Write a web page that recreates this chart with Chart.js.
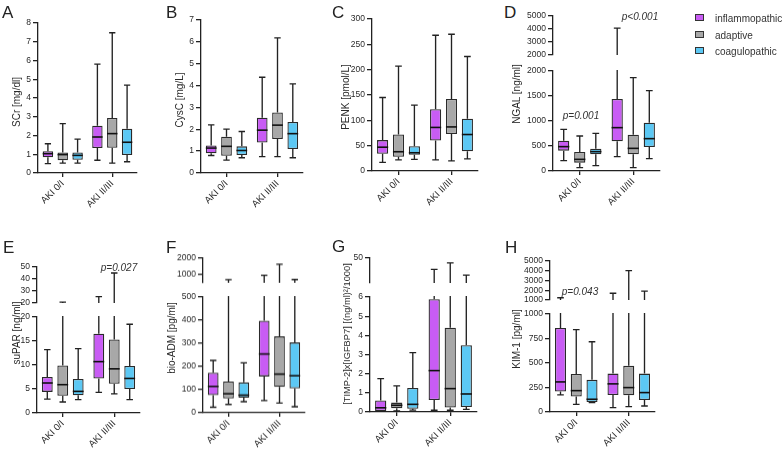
<!DOCTYPE html>
<html>
<head>
<meta charset="utf-8">
<script src="https://cdn.jsdelivr.net/npm/chart.js@4"></script>
<style>
  body { margin: 0; background: #fff; }
  #fig { position: relative; width: 784px; height: 452px; overflow: hidden;
         font-family: "Liberation Sans", Arial, sans-serif; color: #333; }
  #fig canvas { position: absolute; }
  .lt { position: absolute; font-size: 17px; line-height: 17px; color: #222; }
  .yt { position: absolute; width: 200px; height: 12px; font-size: 10px; line-height: 12px;
        text-align: center; white-space: nowrap; color: #2a2a2a; transform: rotate(-90deg); }
  .pv { position: absolute; width: 60px; height: 12px; line-height: 12px; text-align: center;
        font-size: 10px; font-style: italic; white-space: nowrap; }
  .lg { position: absolute; left: 695px; font-size: 10px; line-height: 12px; white-space: nowrap; }
  .lg i { display: inline-block; width: 7px; height: 5px; border: 1.3px solid #333;
          margin-right: 11px; vertical-align: 1px; }
</style>
</head>
<body>
<div id="fig"></div>
<script>
const groups = ['AKI 0/I', 'AKI II/III'];
const phenotypes = ['inflammopathic', 'adaptive', 'coagulopathic'];
const colors = ['#c85cf4', '#a8a8a8', '#5cc8f4'];

// box stats [min, q1, median, q3, max]; one row per phenotype: [AKI 0/I, AKI II/III]
const scr = [
  [[0.5, 0.84, 1.03, 1.16, 1.56], [0.68, 1.33, 1.92, 2.52, 5.81]],
  [[0.53, 0.68, 0.98, 1.1, 2.63], [0.53, 1.35, 2.1, 2.93, 7.48]],
  [[0.53, 0.71, 0.94, 1.1, 1.81], [0.6, 0.96, 1.64, 2.36, 4.69]]
];
const cysc = [
  [[0.8, 0.9, 1.14, 1.26, 2.2], [0.75, 1.39, 1.96, 2.53, 4.38]],
  [[0.59, 0.79, 1.22, 1.66, 2.01], [0.75, 1.55, 2.19, 2.77, 6.18]],
  [[0.7, 0.82, 1.03, 1.22, 1.9], [0.7, 1.1, 1.8, 2.33, 4.08]]
];
const penk = [
  [[17, 34, 47, 61, 145], [22, 60, 86, 122, 268]],
  [[22, 28, 38, 72, 207], [20, 73, 87, 142, 270]],
  [[23, 32, 36, 49, 130], [24, 39, 72, 103, 226]]
];
const ngal = [
  [[207, 407, 487, 607, 833], [287, 593, 867, 1440, 4060]],
  [[67, 167, 233, 380, 700], [67, 333, 453, 727, 1867]],
  [[107, 333, 387, 447, 753], [247, 480, 647, 967, 1607]]
];
const supar = [
  [[2.9, 4.4, 6.25, 7.5, 13.2], [4.3, 7.2, 10.7, 16.5, 25.2]],
  [[2.3, 3.6, 5.9, 9.9, 20.7], [4.0, 6.1, 9.2, 15.3, 45]],
  [[2.8, 3.7, 4.5, 7.1, 13.4], [2.8, 5.0, 7.2, 9.8, 18.5]]
];
const bioadm = [
  [[24, 76, 114, 173, 226], [53, 157, 254, 398, 955]],
  [[36, 62, 82, 135, 690], [42, 112, 167, 330, 1630]],
  [[48, 65, 76, 131, 216], [26, 105, 160, 304, 700]]
];
const timp = [
  [[0.01, 0.05, 0.22, 0.6, 1.74], [0.09, 0.63, 2.16, 5.88, 29.8]],
  [[0.05, 0.19, 0.35, 0.49, 1.36], [0.09, 0.23, 1.22, 4.4, 41.4]],
  [[0.1, 0.17, 0.4, 1.25, 3.1], [0.14, 0.26, 0.94, 3.48, 19.7]]
];
const kim = [
  [[174, 208, 307, 857, 1217], [44, 174, 287, 392, 1682]],
  [[78, 157, 218, 389, 840], [55, 171, 249, 471, 4008]],
  [[96, 102, 130, 328, 717], [61, 123, 198, 392, 1899]]
];

// y tick labels (low segment / upper segment of broken axes)
const scrTicks = [0, 1, 2, 3, 4, 5, 6, 7, 8];
const cyscTicks = [0, 1, 2, 3, 4, 5, 6, 7];
const penkTicks = [0, 50, 100, 150, 200, 250, 300];
const ngalTicksLow = [0, 500, 1000, 1500, 2000];
const ngalTicksHigh = [2000, 3000, 4000, 5000];
const suparTicksLow = [0, 5, 10, 15, 20];
const suparTicksHigh = [20, 30, 40, 50];
const admTicksLow = [0, 100, 200, 300, 400, 500];
const admTicksHigh = [1000, 2000];
const timpTicksLow = [0, 1, 2, 3, 4, 5, 6];
const timpTicksHigh = [50];
const kimTicksLow = [0, 250, 500, 750, 1000];
const kimTicksHigh = [1000, 2000, 3000, 4000, 5000];

const pValues = [
  { text: 'p=0.001', x: 581, y: 116 },
  { text: 'p<0.001', x: 640, y: 17 },
  { text: 'p=0.027', x: 119, y: 268 },
  { text: 'p=0.043', x: 580, y: 292 }
];

// layout of each panel (page pixels); segs[0] is the one carrying the x axis
const panels = [
  { letter: 'A', lx: 2, ly: 4, title: 'SCr [mg/dl]', tx: 17, ty: 102, left: 38, right: 137, data: scr,
    segs: [{ min: 0, max: 8, ticks: scrTicks, top: 23, bottom: 173 }] },
  { letter: 'B', lx: 166, ly: 4, title: 'CysC [mg/L]', tx: 180, ty: 100, left: 201, right: 303, data: cysc,
    segs: [{ min: 0, max: 7, ticks: cyscTicks, top: 20, bottom: 173 }] },
  { letter: 'C', lx: 332, ly: 4, title: 'PENK [pmol/L]', tx: 346, ty: 97, left: 372, right: 478, data: penk,
    segs: [{ min: 0, max: 300, ticks: penkTicks, top: 19, bottom: 171 }] },
  { letter: 'D', lx: 504, ly: 4, title: 'NGAL [ng/ml]', tx: 517, ty: 94, left: 553, right: 660, data: ngal,
    segs: [{ min: 0, max: 2000, ticks: ngalTicksLow, top: 70.7, bottom: 171 },
           { min: 2000, max: 5000, ticks: ngalTicksHigh, top: 15.7, bottom: 59.3 }] },
  { letter: 'E', lx: 3, ly: 239, title: 'suPAR [ng/ml]', tx: 17, ty: 333, left: 37, right: 140, data: supar,
    segs: [{ min: 0, max: 20, ticks: suparTicksLow, top: 316.7, bottom: 412.7 },
           { min: 20, max: 50, ticks: suparTicksHigh, top: 266.7, bottom: 307 }] },
  { letter: 'F', lx: 166, ly: 239, title: 'bio-ADM [pg/ml]', tx: 172, ty: 338, left: 203, right: 305, data: bioadm,
    segs: [{ min: 0, max: 500, ticks: admTicksLow, top: 297, bottom: 412.7 },
           { min: 500, max: 2000, ticks: admTicksHigh, top: 258.3, bottom: 286.7 }] },
  { letter: 'G', lx: 332, ly: 238, title: '[TIMP-2]x[IGFBP7] [(ng/ml)\u00b2/1000]', tx: 347, ty: 334, left: 370, right: 477, data: timp,
    fs: 9.3,
    segs: [{ min: 0, max: 6, ticks: timpTicksLow, top: 297, bottom: 412 },
           { min: 6, max: 50, ticks: timpTicksHigh, top: 257.7, bottom: 286.7 }] },
  { letter: 'H', lx: 505, ly: 239, title: 'KIM-1 [pg/ml]', tx: 517, ty: 339, left: 550, right: 655, data: kim,
    segs: [{ min: 0, max: 1000, ticks: kimTicksLow, top: 314, bottom: 412 },
           { min: 1000, max: 5000, ticks: kimTicksHigh, top: 260.7, bottom: 303.7 }] }
];

const fig = document.getElementById('fig');
const FONT = '"Liberation Sans", Arial, sans-serif';
const YW = 36, PT = 8, PB = 3, PR = 6, XH = 46;
const INK = '#222';

function drawParts(chart, medians) {
  const ctx = chart.ctx, a = chart.chartArea, ys = chart.scales.y;
  const py = v => ys.getPixelForValue(v);
  ctx.save();
  ctx.beginPath();
  ctx.rect(a.left, a.top - 1, a.right - a.left, a.bottom - a.top + 1);
  ctx.clip();
  chart.data.datasets.forEach((ds, i) => {
    chart.getDatasetMeta(i).data.forEach((bar, j) => {
      const [mn, q1, md, q3, mx] = ds.stats[j];
      const { x, width } = bar.getProps(['x', 'width'], true);
      const hw = width / 2, cw = width * 0.3;
      ctx.beginPath();
      if (medians) {
        ctx.strokeStyle = '#111';
        ctx.lineWidth = 1.6;
        ctx.moveTo(x - hw, py(md));
        ctx.lineTo(x + hw, py(md));
      } else {
        ctx.strokeStyle = INK;
        ctx.lineWidth = 1.35;
        ctx.moveTo(x, py(mx)); ctx.lineTo(x, py(q3));
        ctx.moveTo(x, py(q1)); ctx.lineTo(x, py(mn));
        ctx.moveTo(x - cw, py(mx)); ctx.lineTo(x + cw, py(mx));
        ctx.moveTo(x - cw, py(mn)); ctx.lineTo(x + cw, py(mn));
      }
      ctx.stroke();
    });
  });
  ctx.restore();
}

const boxPlugin = {
  id: 'boxWhiskers',
  beforeDatasetsDraw(chart) { drawParts(chart, false); },
  afterDatasetsDraw(chart) { drawParts(chart, true); }
};

function segChart(p, seg, withX) {
  const cv = document.createElement('canvas');
  const w = p.right - p.left + YW + PR;
  const h = seg.bottom - seg.top + PT + (withX ? XH : PB);
  cv.width = w; cv.height = h;
  cv.style.width = w + 'px'; cv.style.height = h + 'px';
  cv.style.left = (p.left - YW) + 'px';
  cv.style.top = (seg.top - PT) + 'px';
  fig.appendChild(cv);

  new Chart(cv, {
    type: 'bar',
    data: {
      labels: groups,
      datasets: p.data.map((d, i) => ({
        label: phenotypes[i],
        data: d.map(s => [s[1], s[3]]),
        stats: d,
        backgroundColor: colors[i],
        borderColor: '#2a2a2a',
        borderWidth: 1.3,
        borderSkipped: false,
        categoryPercentage: 0.9,
        barPercentage: 0.7,
        clip: 0
      }))
    },
    options: {
      responsive: false,
      animation: false,
      events: [],
      layout: { autoPadding: false, padding: { top: PT, right: PR, bottom: withX ? 0 : PB, left: 0 } },
      plugins: { legend: { display: false }, tooltip: { enabled: false } },
      scales: {
        x: {
          display: withX,
          offset: true,
          grid: { offset: false, drawOnChartArea: false, tickLength: 4, color: INK, lineWidth: 1.3 },
          border: { color: INK, width: 1.3 },
          ticks: { autoSkip: false, minRotation: 45, maxRotation: 45, padding: 1, color: '#2a2a2a',
                   font: { family: FONT, size: 9.5 } },
          afterFit: s => { s.height = withX ? XH : 0; }
        },
        y: {
          min: seg.min,
          max: seg.max,
          afterBuildTicks: s => { s.ticks = seg.ticks.map(v => ({ value: v })); },
          grid: { drawOnChartArea: false, tickLength: 5, color: INK, lineWidth: 1.3 },
          border: { color: INK, width: 1.3 },
          ticks: { autoSkip: false, padding: 2, color: '#2a2a2a', font: { family: FONT, size: 8.5 },
                   callback: v => String(v) },
          afterFit: s => { s.width = YW; }
        }
      }
    },
    plugins: [boxPlugin]
  });
}

function addText(cls, text, x, y, extra) {
  const d = document.createElement('div');
  d.className = cls;
  d.textContent = text;
  d.style.left = x + 'px';
  d.style.top = y + 'px';
  if (extra) Object.assign(d.style, extra);
  fig.appendChild(d);
  return d;
}

panels.forEach(p => {
  p.segs.forEach((seg, k) => segChart(p, seg, k === 0));
  addText('lt', p.letter, p.lx, p.ly);
  // 200x12 box rotated about its centre, centred on (tx, ty)
  addText('yt', p.title, p.tx - 100, p.ty - 6, p.fs ? { fontSize: p.fs + 'px' } : null);
});

pValues.forEach(pv => addText('pv', pv.text, pv.x - 30, pv.y - 6));

phenotypes.forEach((name, i) => {
  const d = addText('lg', '', 0, 13 + i * 16.5);
  d.style.left = '';
  const sw = document.createElement('i');
  sw.style.background = colors[i];
  d.appendChild(sw);
  d.appendChild(document.createTextNode(name));
});
</script>
</body>
</html>
